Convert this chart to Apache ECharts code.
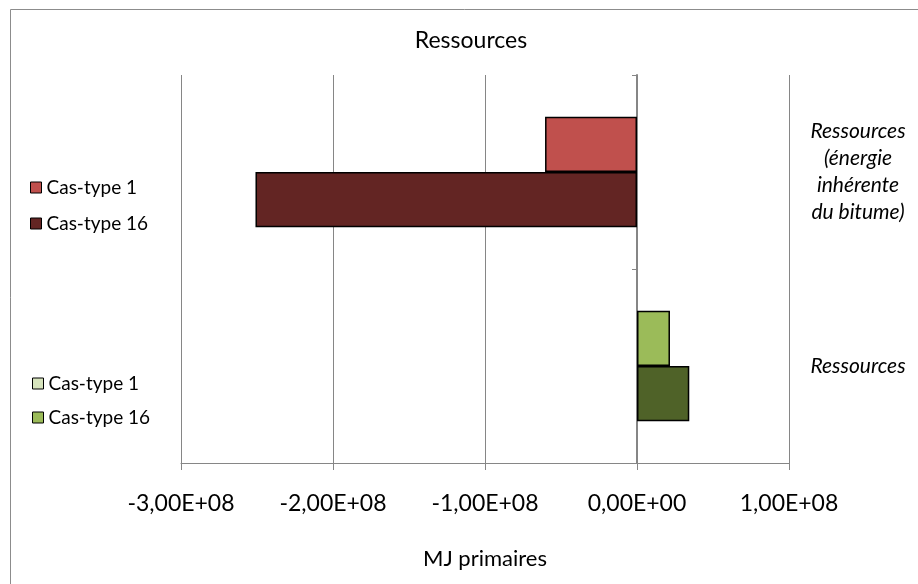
<!DOCTYPE html>
<html>
<head>
<meta charset="utf-8">
<script src="https://cdn.jsdelivr.net/npm/echarts@6/dist/echarts.min.js"></script>
<style>
  html, body { margin: 0; padding: 0; background: #fff; }
  #chart { width: 918px; height: 584px; }
</style>
</head>
<body>
<div id="chart"></div>
<script>
// Categories, bottom to top
const categories = ['Ressources', 'Ressources\n(énergie\ninhérente\ndu bitume)'];
// MJ primaires per case type
const casType1 = [2.17e7, -6.05e7];
const casType16 = [3.44e7, -2.51e8];

const colors1 = ['#9BBB59', '#C0504D'];
const colors16 = ['#4F6228', '#632523'];

const FONT = 'Lato';

function sci(v) {
  if (v === 0) return '0,00E+00';
  const sign = v < 0 ? '-' : '';
  const a = Math.abs(v);
  const e = Math.floor(Math.log10(a));
  const m = (a / Math.pow(10, e)).toFixed(2).replace('.', ',');
  return sign + m + 'E+' + String(e).padStart(2, '0');
}

const chart = echarts.init(document.getElementById('chart'));
chart.setOption({
  animation: false,
  backgroundColor: '#fff',
  title: {
    text: 'Ressources',
    left: 466, top: 24, textAlign: 'center',
    textStyle: { fontFamily: FONT, fontSize: 23, fontWeight: 'normal', color: '#000' }
  },
  graphic: [{
    type: 'rect', shape: { x: 10.5, y: 9.5, width: 1000, height: 1000 },
    style: { fill: 'none', stroke: '#8c8c8c', lineWidth: 1 }, silent: true
  }],
  legend: [{
    left: 25, top: 173, orient: 'vertical', itemGap: 17,
    itemWidth: 11, itemHeight: 11, icon: 'rect',
    textStyle: { fontFamily: FONT, fontSize: 19, color: '#000' },
    data: [
      { name: 'Cas-type 1', itemStyle: { color: '#C0504D', borderColor: '#000', borderWidth: 1 } },
      { name: 'Cas-type 16', itemStyle: { color: '#632523', borderColor: '#000', borderWidth: 1 } }
    ]
  }, {
    left: 27, top: 369, orient: 'vertical', itemGap: 15,
    itemWidth: 11, itemHeight: 11, icon: 'rect',
    textStyle: { fontFamily: FONT, fontSize: 19, color: '#000' },
    data: [
      { name: 'Cas-type 1', itemStyle: { color: '#D7E4BD', borderColor: '#000', borderWidth: 1 } },
      { name: 'Cas-type 16', itemStyle: { color: '#9BBB59', borderColor: '#000', borderWidth: 1 } }
    ]
  }],
  grid: { left: 181, right: 129, top: 75, bottom: 121, containLabel: false },
  xAxis: {
    type: 'value', min: -3e8, max: 1e8, interval: 1e8,
    name: 'MJ primaires', nameLocation: 'middle', nameGap: 85,
    nameTextStyle: { fontFamily: FONT, fontSize: 22, color: '#000' },
    axisLine: { show: true, onZero: false, lineStyle: { color: '#868686', width: 1 } },
    axisTick: { show: true, length: 7, lineStyle: { color: '#868686' } },
    axisLabel: { fontFamily: FONT, fontSize: 23, color: '#000', margin: 29, formatter: v => sci(v) },
    splitLine: { show: true, lineStyle: { color: '#868686', width: 1 } }
  },
  yAxis: [{
    type: 'category', data: categories, position: 'left',
    axisLine: { show: true, onZero: true, lineStyle: { color: '#868686', width: 2 } },
    axisTick: { show: true, length: 5, lineStyle: { color: '#868686' } },
    axisLabel: { show: false }
  }, {
    type: 'category', data: categories, position: 'right',
    axisLine: { show: false }, axisTick: { show: false },
    axisLabel: {
      fontFamily: FONT, fontSize: 21, fontStyle: 'italic', color: '#000',
      align: 'center', margin: 69, lineHeight: 27, padding: [6, 0, 0, 0]
    }
  }],
  series: [{
    name: 'Cas-type 1', type: 'bar', yAxisIndex: 0,
    barGap: '0%', barCategoryGap: '43%',
    data: casType1.map((v, i) => ({ value: v, itemStyle: { color: colors1[i] } })),
    itemStyle: { borderColor: '#000', borderWidth: 1.5 }
  }, {
    name: 'Cas-type 16', type: 'bar', yAxisIndex: 0,
    barGap: '0%', barCategoryGap: '43%',
    data: casType16.map((v, i) => ({ value: v, itemStyle: { color: colors16[i] } })),
    itemStyle: { borderColor: '#000', borderWidth: 1.5 }
  }]
});
</script>
</body>
</html>
